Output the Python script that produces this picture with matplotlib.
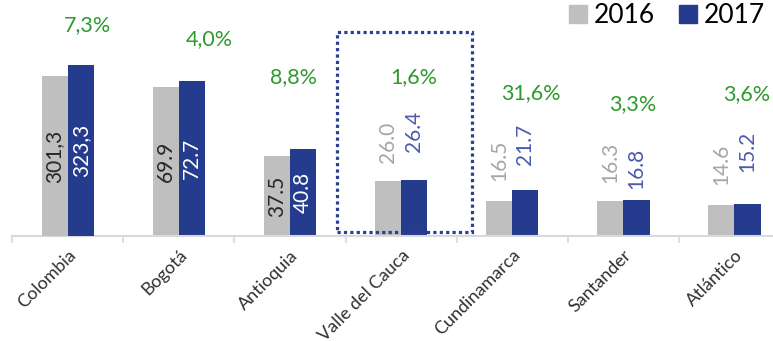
import numpy as np
from matplotlib import pyplot as plt
from matplotlib.patches import Patch, Rectangle
from matplotlib import transforms

plt.rcParams['font.family'] = ['Lato', 'DejaVu Sans']

regions = ['Colombia', 'Bogotá', 'Antioquia', 'Valle del Cauca',
           'Cundinamarca', 'Santander', 'Atlántico']
v2016 = [301.3, 69.9, 37.5, 26.0, 16.5, 16.3, 14.6]
v2017 = [323.3, 72.7, 40.8, 26.4, 21.7, 16.8, 15.2]
growth = ['7,3%', '4,0%', '8,8%', '1,6%', '31,6%', '3,3%', '3,6%']

gray = '#bfbfbf'
blue = '#253c8e'
green = '#2e9a2e'

# label placement (pixel offsets above bar tops for the small regions)
above_pad16 = [None, None, None, 18, 20, 18, 20]
above_pad17 = [None, None, None, 28, 25, 11, 32]
growth_dx = [0.18, 0.27, 0.03, 0.11, 0.17, 0.08, 0.11]
growth_y = [0.892, 0.833, 0.672, 0.672, 0.606, 0.561, 0.600]

W, H = 773, 341
fig = plt.figure(figsize=(W / 100, H / 100), dpi=100)
base = 236
ax = fig.add_axes([12.3 / W, (H - base) / H, 777.7 / W, base / H])
ax2 = ax.twinx()  # national total on its own scale
ax.set_ylim(0, 111)
ax2.set_ylim(0, 445)
ax.set_xlim(-0.5, 6.5)

bw = 0.236
x = np.arange(len(regions))
for i in range(len(regions)):
    a = ax2 if i == 0 else ax
    b16 = a.bar(x[i] - bw / 2, v2016[i], bw, color=gray, zorder=2)
    b17 = a.bar(x[i] + bw / 2, v2017[i], bw, color=blue, zorder=2)
    t16 = '{:.1f}'.format(v2016[i])
    t17 = '{:.1f}'.format(v2017[i])
    if i == 0:
        t16 = t16.replace('.', ',')
        t17 = t17.replace('.', ',')
    if above_pad16[i] is None:
        a.bar_label(b16, labels=[t16], label_type='center', rotation=90,
                    color='#262626', fontsize=15)
        a.bar_label(b17, labels=[t17], label_type='center', rotation=90,
                    color='white', fontsize=15)
    else:
        a.annotate(t16, (x[i] - bw / 2, v2016[i]), xytext=(0, above_pad16[i]),
                   textcoords='offset pixels', rotation=90, ha='center',
                   va='bottom', color='#a6a6a6', fontsize=15)
        a.annotate(t17, (x[i] + bw / 2, v2017[i]), xytext=(0, above_pad17[i]),
                   textcoords='offset pixels', rotation=90, ha='center',
                   va='bottom', color='#4a5bb0', fontsize=15)

trans = transforms.blended_transform_factory(ax.transData, ax.transAxes)
for i in range(len(regions)):
    ax.text(x[i] + growth_dx[i], growth_y[i], growth[i], transform=trans,
            ha='center', va='center', color=green, fontsize=15.5)

# highlight box around Valle del Cauca
box = Rectangle((2.423, 0.015), 1.215, 0.85, transform=trans, fill=False,
                edgecolor='#2a3f94', linewidth=2.3, linestyle=(0, (1, 1)),
                zorder=5, clip_on=False)
ax.add_patch(box)

for a in [ax, ax2]:
    for s in ['top', 'left', 'right']:
        a.spines[s].set_visible(False)
    a.set_yticks([])
ax2.spines['bottom'].set_visible(False)
ax.spines['bottom'].set_color('#d9d9d9')
ax.spines['bottom'].set_linewidth(1.5)
ax.set_xticks(x)
ax.set_xticklabels(regions, rotation=45, ha='right', rotation_mode='anchor',
                   fontsize=13, color='#303030')
ax.tick_params(axis='x', which='major', length=0, pad=8)
ax.set_xticks(np.arange(-0.5, 7, 1), minor=True)
ax.tick_params(axis='x', which='minor', length=5, width=1.2, color='#d9d9d9')

handles = [Patch(color=gray, label='2016'), Patch(color=blue, label='2017')]
fig.legend(handles=handles, loc='upper right', ncol=2, frameon=False,
           bbox_to_anchor=(765 / W, 1 - 3 / H), fontsize=19,
           handlelength=0.7, handleheight=0.7, handletextpad=0.25,
           columnspacing=0.9, borderpad=0, borderaxespad=0)

plt.savefig('out.png', dpi=100)
